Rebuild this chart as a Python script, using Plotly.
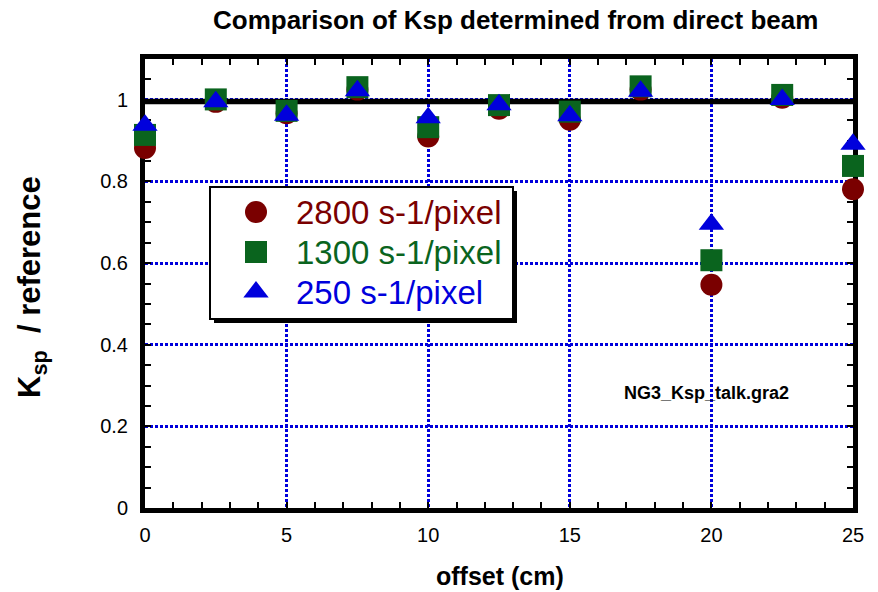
import plotly.graph_objects as go

# Offset of the beam spot on the detector (cm)
offset_cm = [0, 2.5, 5, 7.5, 10, 12.5, 15, 17.5, 20, 22.5, 25]

# Ksp normalised to the reference value, one list per count rate
ratio_2800 = [0.882, 0.995, 0.967, 1.025, 0.910, 0.978, 0.951, 1.025, 0.547, 1.005, 0.781]
ratio_1300 = [0.914, 1.001, 0.973, 1.031, 0.933, 0.987, 0.971, 1.033, 0.607, 1.012, 0.838]
ratio_250 = [0.938, 0.995, 0.962, 1.022, 0.956, 0.988, 0.961, 1.021, 0.695, 1.001, 0.891]

series_names = ["2800 s-1/pixel", "1300 s-1/pixel", "250 s-1/pixel"]
series_values = [ratio_2800, ratio_1300, ratio_250]
series_colors = ["#7a0000", "#0a641e", "#0000dc"]
series_symbols = ["circle", "square", "triangle-up"]

reference_level = 0.996

FONT = "Liberation Sans, Arial, Helvetica, sans-serif"
W, H = 878, 592
ML, MR, MT, MB = 145, 25, 59, 84
PW, PH = W - ML - MR, H - MT - MB
X_RANGE = [0, 25]
Y_RANGE = [0, 1.1]


def px_x(px):
    """Horizontal page pixel -> x data value."""
    return X_RANGE[0] + (px - ML) / PW * (X_RANGE[1] - X_RANGE[0])


def px_y(py):
    """Vertical page pixel -> y data value."""
    return Y_RANGE[0] + (H - MB - py) / PH * (Y_RANGE[1] - Y_RANGE[0])


def paper_x(px):
    return (px - ML) / PW


def paper_y(py):
    return (H - MB - py) / PH


fig = go.Figure()

# data points
for name, vals, col, sym in zip(series_names, series_values, series_colors, series_symbols):
    fig.add_trace(go.Scatter(
        x=offset_cm, y=vals, mode="markers", name=name,
        marker=dict(symbol=sym, size=22, color=col, line=dict(width=0)),
        cliponaxis=False, showlegend=False,
    ))

# framed legend with drop shadow
box_l, box_r, box_t, box_b = 210, 513, 187, 319
shadow = 4
fig.add_shape(type="rect", xref="x", yref="y", layer="between",
              x0=px_x(box_l + shadow), x1=px_x(box_r + shadow),
              y0=px_y(box_b + shadow), y1=px_y(box_t + shadow),
              fillcolor="black", line=dict(width=0))
fig.add_shape(type="rect", xref="x", yref="y", layer="between",
              x0=px_x(box_l), x1=px_x(box_r), y0=px_y(box_b), y1=px_y(box_t),
              fillcolor="white", line=dict(color="black", width=2))

row_y = [212, 252, 292]
for name, col, sym, ry in zip(series_names, series_colors, series_symbols, row_y):
    fig.add_trace(go.Scatter(
        x=[px_x(256)], y=[px_y(ry)], mode="markers",
        marker=dict(symbol=sym, size=22, color=col, line=dict(width=0)),
        cliponaxis=False, showlegend=False, hoverinfo="skip",
    ))
    fig.add_annotation(x=paper_x(294), y=paper_y(ry), xref="paper", yref="paper",
                       text=name, showarrow=False, xanchor="left", yanchor="middle",
                       font=dict(family=FONT, size=33, color=col))

# reference line at unity
fig.add_shape(type="line", xref="x", yref="y", layer="between",
              x0=0, x1=px_x(862), y0=reference_level, y1=reference_level,
              line=dict(color="black", width=5.5))

# titles and file tag
fig.add_annotation(x=paper_x(515), y=paper_y(20), xref="paper", yref="paper",
                   text="<b>Comparison of Ksp determined from direct beam</b>",
                   showarrow=False, xanchor="center", yanchor="middle",
                   font=dict(family=FONT, size=26, color="black"))
fig.add_annotation(x=paper_x(500), y=paper_y(576), xref="paper", yref="paper",
                   text="<b>offset (cm)</b>", showarrow=False,
                   xanchor="center", yanchor="middle",
                   font=dict(family=FONT, size=25, color="black"))
fig.add_annotation(x=paper_x(32), y=paper_y(287), xref="paper", yref="paper",
                   text="<b>K<sub>sp</sub>  / reference</b>", showarrow=False,
                   textangle=-90, xanchor="center", yanchor="middle",
                   font=dict(family=FONT, size=31, color="black"))
fig.add_annotation(x=paper_x(706), y=paper_y(393), xref="paper", yref="paper",
                   text="<b>NG3_Ksp_talk.gra2</b>", showarrow=False,
                   xanchor="center", yanchor="middle",
                   font=dict(family=FONT, size=18, color="black"))

axis_common = dict(
    showline=True, linecolor="black", linewidth=5, mirror="allticks",
    ticks="inside", ticklen=6, tickwidth=1.5, tickcolor="black",
    showgrid=True, gridcolor="#0000dc", gridwidth=3, griddash="3px,2px",
    zeroline=False, layer="below traces",
    tickfont=dict(family=FONT, size=20, color="black"),
)

fig.update_xaxes(range=X_RANGE, tick0=0, dtick=5, ticklabelstandoff=5,
                 minor=dict(dtick=1, ticks="inside", ticklen=6, tickwidth=1.5,
                            tickcolor="black", showgrid=False),
                 **axis_common)
fig.update_yaxes(range=Y_RANGE, tick0=0, dtick=0.2, ticklabelstandoff=8,
                 minor=dict(dtick=0.05, ticks="inside", ticklen=6, tickwidth=1.5,
                            tickcolor="black", showgrid=False),
                 **axis_common)

fig.update_layout(
    width=W, height=H,
    margin=dict(l=ML, r=MR, t=MT, b=MB, pad=0),
    paper_bgcolor="white", plot_bgcolor="white",
    font=dict(family=FONT, color="black"),
    showlegend=False,
)

fig.write_html("out.html")
